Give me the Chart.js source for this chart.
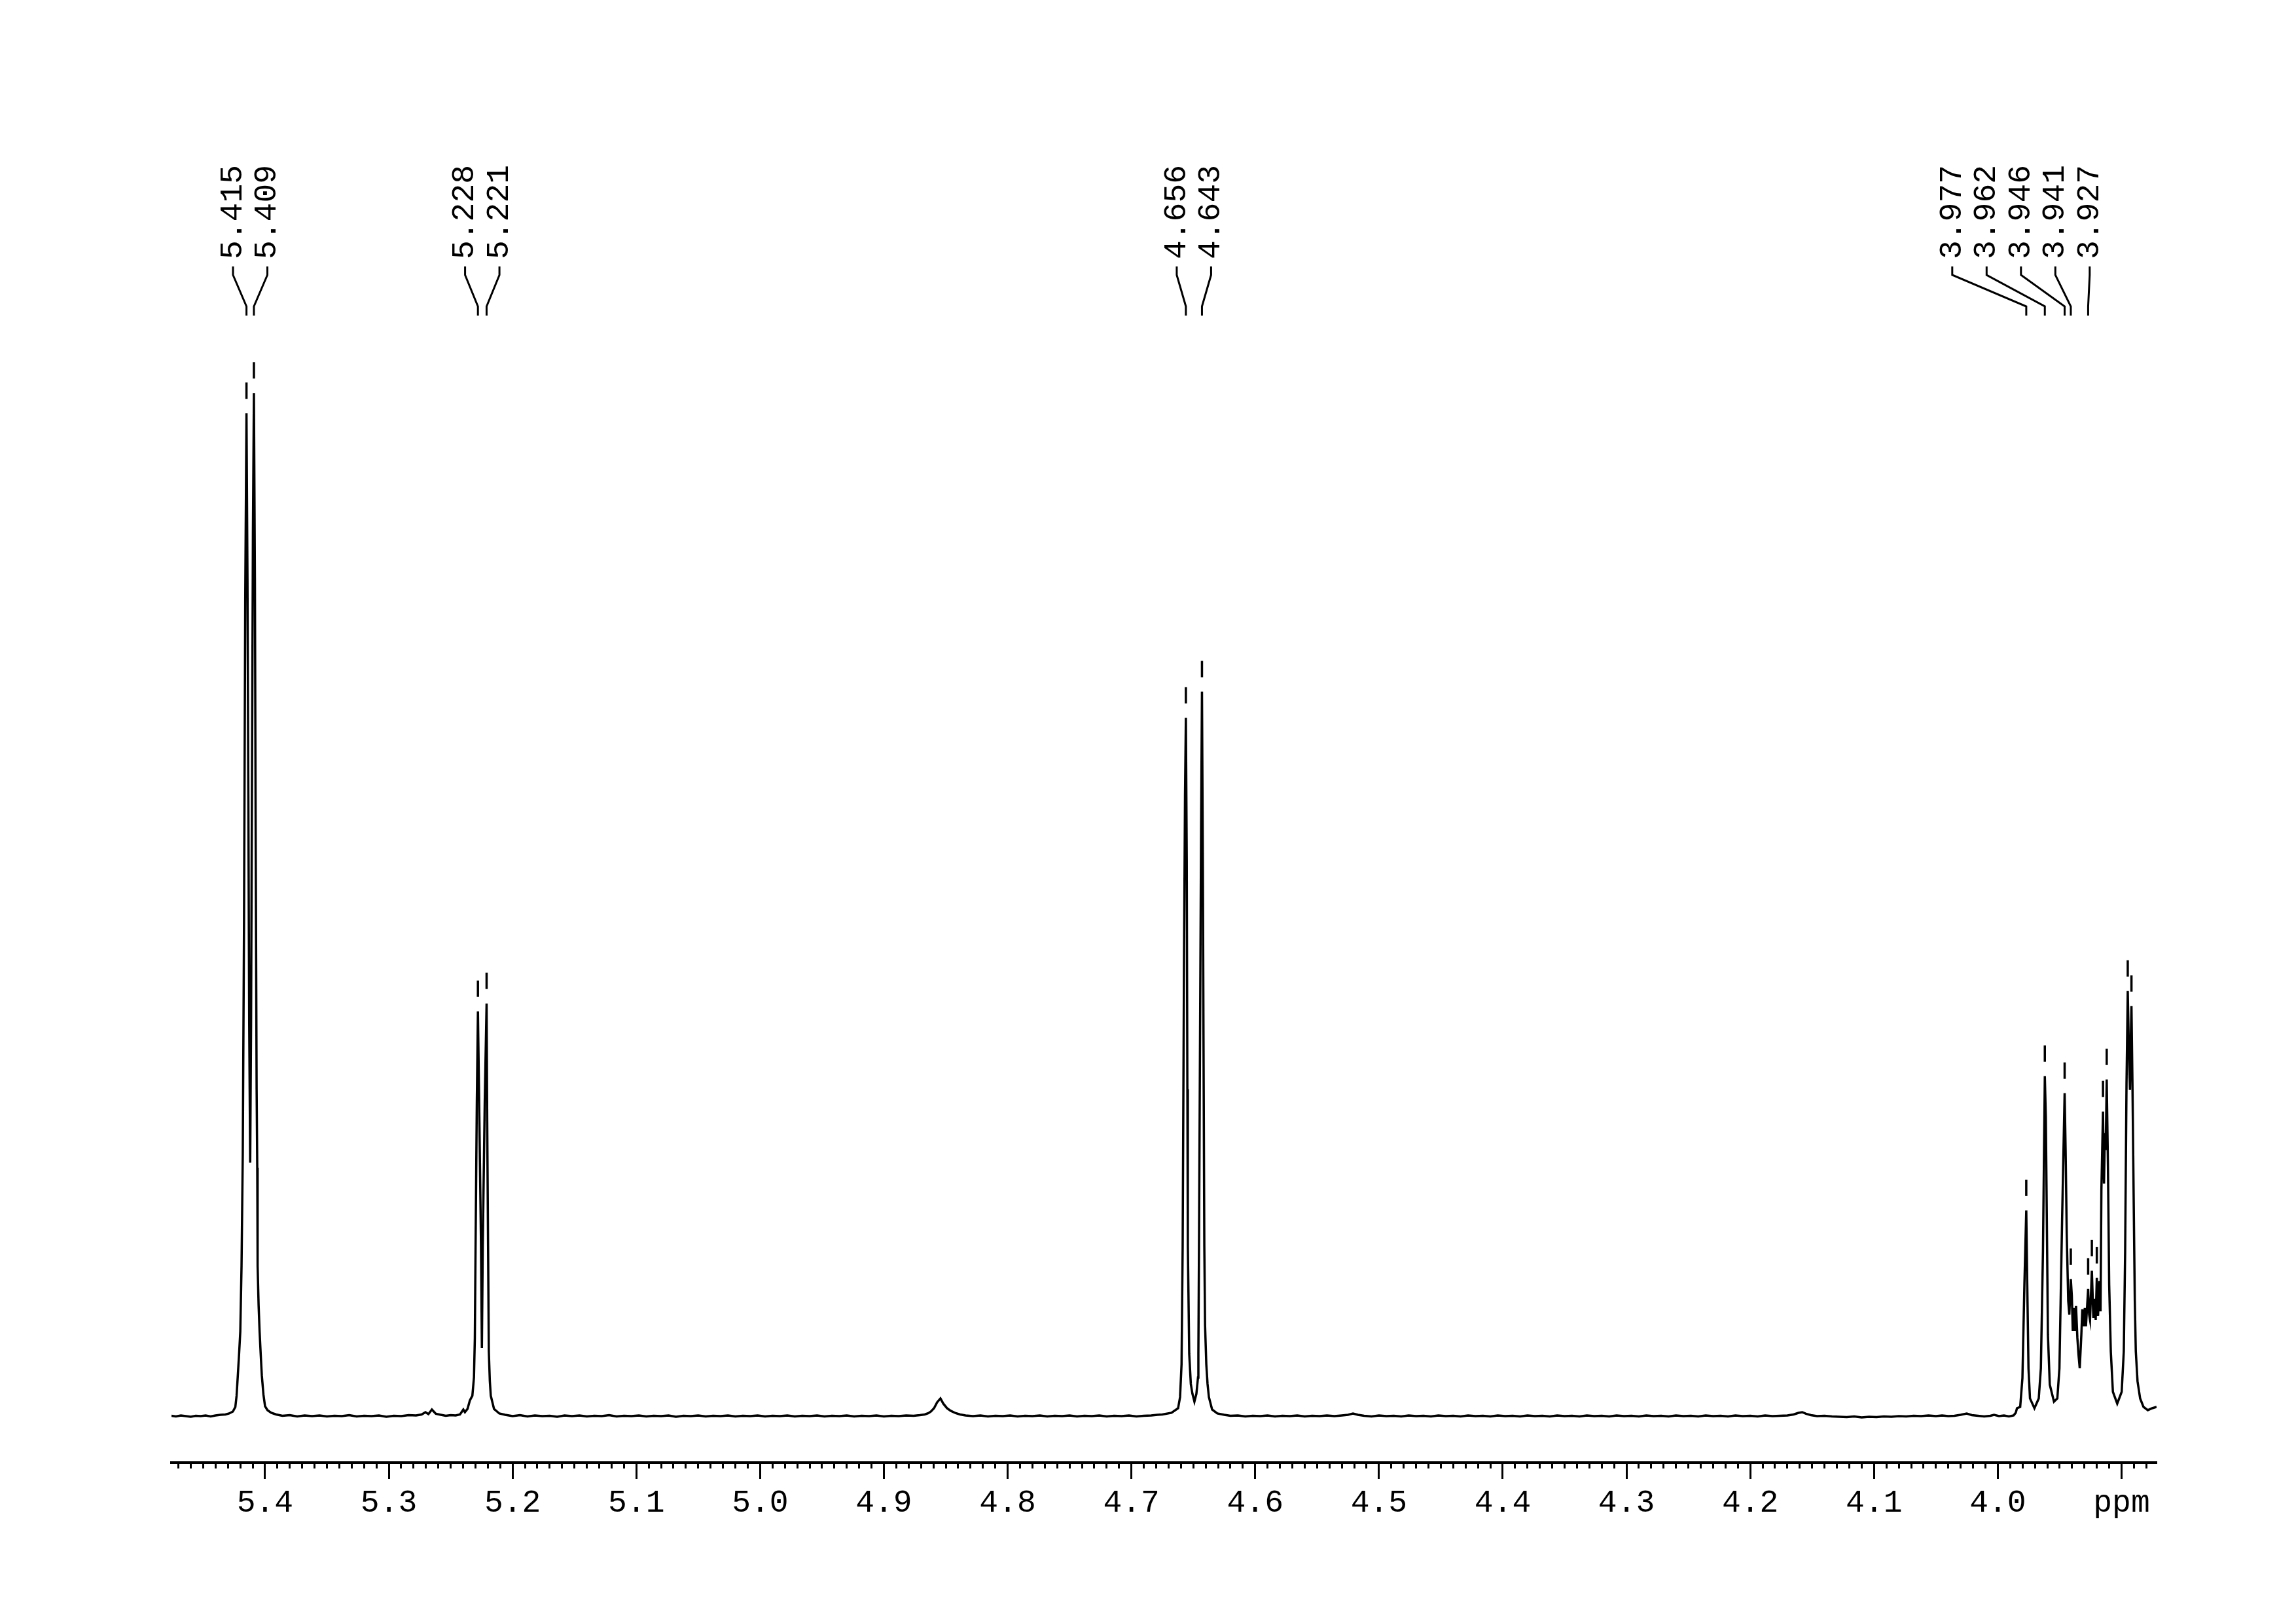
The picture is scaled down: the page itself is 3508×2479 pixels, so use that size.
<!DOCTYPE html>
<html lang="en">
<head>
    <meta charset="UTF-8">
    <title>1H NMR 3.87 - 5.48 ppm</title>
    <script src="https://cdn.jsdelivr.net/npm/chart.js"></script>
    <style>
        body { margin: 0; background: #fff; }
        #wrap { width: 3508px; height: 2479px; }
    </style>
</head>
<body>
<div id="wrap"><canvas id="spectrum"></canvas></div>
<script>
    // Trace: chemical shift (ppm) and intensity (arbitrary units, baseline = 0)
    const shiftPpm = [
        5.4756, 5.472, 5.468, 5.464, 5.46, 5.456, 5.452, 5.448, 5.444, 5.44, 5.436, 5.432, 5.429, 5.426, 5.424,
        5.423, 5.422, 5.421, 5.42, 5.419, 5.418, 5.417, 5.416, 5.415, 5.4142, 5.4135, 5.4128, 5.412, 5.4113,
        5.4105, 5.4098, 5.409, 5.4082, 5.4075, 5.4068, 5.4063, 5.406, 5.4052, 5.4044, 5.4035, 5.4026, 5.4013,
        5.4, 5.398, 5.395, 5.391, 5.386, 5.38, 5.374, 5.368, 5.362, 5.356, 5.35, 5.344, 5.338, 5.332, 5.326,
        5.32, 5.314, 5.308, 5.302, 5.296, 5.29, 5.284, 5.278, 5.2735, 5.2704, 5.268, 5.2652, 5.262, 5.258,
        5.254, 5.25, 5.246, 5.2425, 5.2398, 5.2385, 5.2364, 5.2345, 5.2325, 5.2312, 5.2305, 5.2299, 5.2289,
        5.228, 5.2268, 5.2255, 5.2248, 5.2241, 5.2225, 5.221, 5.2205, 5.2198, 5.2192, 5.2184, 5.2176, 5.215,
        5.2107, 5.206, 5.2, 5.194, 5.188, 5.182, 5.176, 5.17, 5.164, 5.158, 5.152, 5.146, 5.14, 5.134, 5.128,
        5.122, 5.116, 5.11, 5.104, 5.098, 5.092, 5.086, 5.08, 5.074, 5.068, 5.062, 5.056, 5.05, 5.044, 5.038,
        5.032, 5.026, 5.02, 5.014, 5.008, 5.002, 4.996, 4.99, 4.984, 4.978, 4.972, 4.966, 4.96, 4.954, 4.948,
        4.942, 4.936, 4.93, 4.924, 4.918, 4.912, 4.906, 4.9, 4.894, 4.888, 4.882, 4.876, 4.871, 4.867, 4.864,
        4.862, 4.8595, 4.857, 4.8543, 4.852, 4.849, 4.846, 4.842, 4.8384, 4.834, 4.828, 4.822, 4.816, 4.81,
        4.804, 4.798, 4.792, 4.786, 4.78, 4.774, 4.768, 4.762, 4.756, 4.75, 4.744, 4.738, 4.732, 4.726, 4.72,
        4.714, 4.708, 4.702, 4.696, 4.69, 4.684, 4.679, 4.675, 4.6676, 4.6623, 4.6607, 4.6595, 4.6586, 4.6575,
        4.6567, 4.656, 4.6553, 4.6548, 4.6544, 4.6533, 4.652, 4.6507, 4.6491, 4.6475, 4.6462, 4.6459, 4.6454,
        4.6445, 4.6437, 4.643, 4.6423, 4.6416, 4.6411, 4.6405, 4.6395, 4.6385, 4.6374, 4.6348, 4.6306, 4.625,
        4.62, 4.614, 4.608, 4.602, 4.596, 4.59, 4.584, 4.578, 4.572, 4.566, 4.56, 4.554, 4.548, 4.542, 4.536,
        4.53, 4.525, 4.521, 4.517, 4.512, 4.506, 4.5, 4.494, 4.488, 4.482, 4.476, 4.47, 4.464, 4.458, 4.452,
        4.446, 4.44, 4.434, 4.428, 4.422, 4.416, 4.41, 4.404, 4.398, 4.392, 4.386, 4.38, 4.374, 4.368, 4.362,
        4.356, 4.35, 4.344, 4.338, 4.332, 4.326, 4.32, 4.314, 4.308, 4.302, 4.296, 4.29, 4.284, 4.278, 4.272,
        4.266, 4.26, 4.254, 4.248, 4.242, 4.236, 4.23, 4.224, 4.218, 4.212, 4.206, 4.2, 4.194, 4.188, 4.182,
        4.176, 4.17, 4.165, 4.161, 4.158, 4.155, 4.151, 4.146, 4.14, 4.134, 4.128, 4.122, 4.116, 4.11, 4.104,
        4.098, 4.092, 4.086, 4.08, 4.074, 4.068, 4.062, 4.056, 4.05, 4.045, 4.04, 4.035, 4.03, 4.0251, 4.021,
        4.016, 4.011, 4.006, 4.003, 3.999, 3.995, 3.991, 3.9872, 3.9855, 3.9845, 3.9819, 3.9801, 3.9785, 3.977,
        3.9762, 3.9752, 3.974, 3.9704, 3.9669, 3.9652, 3.9635, 3.962, 3.9612, 3.9604, 3.9595, 3.958, 3.9546,
        3.9519, 3.9502, 3.948, 3.946, 3.9452, 3.9443, 3.9431, 3.9422, 3.941, 3.9402, 3.9394, 3.9385, 3.9376,
        3.9368, 3.9357, 3.9348, 3.9338, 3.9325, 3.9317, 3.9306, 3.9297, 3.9288, 3.927, 3.9262, 3.9255, 3.9248,
        3.924, 3.9228, 3.9218, 3.9209, 3.92, 3.919, 3.9179, 3.917, 3.9163, 3.915, 3.9142, 3.9135, 3.9128, 3.912,
        3.911, 3.91, 3.9087, 3.907, 3.9035, 3.8999, 3.8982, 3.8971, 3.896, 3.895, 3.8941, 3.8932, 3.8928, 3.892,
        3.8912, 3.8902, 3.8893, 3.8885, 3.8871, 3.885, 3.8823, 3.8788, 3.8753, 3.8717
    ];
    const intensity = [
        0.15, 0.05, 0.2, 0.1, 0.0, 0.15, 0.1, 0.2, 0.05, 0.2, 0.3, 0.35, 0.5, 0.8, 1.5,
        3.2, 6.3, 9.5, 13, 23, 40, 75, 125, 153.2, 128, 95, 60, 38.8, 60,
        100, 135, 156.3, 128, 85, 50, 38, 23, 17, 13, 9.5, 6.3, 3.4,
        1.6, 1.0, 0.6, 0.35, 0.15, 0.25, 0.05, 0.2, 0.1, 0.2, 0.05, 0.15, 0.1, 0.25, 0.05,
        0.15, 0.1, 0.2, 0.0, 0.15, 0.1, 0.25, 0.2, 0.35, 0.7, 0.4, 1.1, 0.45, 0.3,
        0.15, 0.25, 0.2, 0.35, 1.1, 0.7, 1.2, 2.5, 3.2, 6, 12, 26, 48,
        61.9, 45, 26, 10.5, 26, 48, 63.1, 45, 26, 10, 5.5, 3.2, 1.2,
        0.5, 0.3, 0.1, 0.25, 0.05, 0.2, 0.1, 0.15, 0.0, 0.2, 0.1, 0.2, 0.05, 0.15, 0.1,
        0.25, 0.05, 0.15, 0.1, 0.2, 0.05, 0.15, 0.1, 0.2, 0.0, 0.15, 0.1, 0.2, 0.05, 0.15,
        0.1, 0.2, 0.05, 0.15, 0.1, 0.2, 0.05, 0.15, 0.1, 0.2, 0.05, 0.15, 0.1, 0.2, 0.05,
        0.15, 0.1, 0.2, 0.05, 0.15, 0.1, 0.2, 0.05, 0.15, 0.1, 0.2, 0.15, 0.25, 0.35, 0.55,
        0.8, 1.3, 2.2, 2.8, 2.0, 1.3, 0.9, 0.55, 0.35, 0.2, 0.1, 0.2, 0.05, 0.15,
        0.1, 0.2, 0.05, 0.15, 0.1, 0.2, 0.05, 0.15, 0.1, 0.2, 0.05, 0.15, 0.1, 0.2, 0.05,
        0.15, 0.1, 0.2, 0.05, 0.15, 0.2, 0.3, 0.35, 0.6, 1.3, 3, 8, 26, 70,
        95, 106.7, 85, 50, 26, 9.6, 5, 3.5, 2.3, 3.5, 6, 9.6, 26,
        60, 90, 110.7, 85, 50, 26, 14, 8, 5, 3, 1.1, 0.5, 0.3,
        0.15, 0.2, 0.05, 0.15, 0.1, 0.2, 0.05, 0.15, 0.1, 0.2, 0.05, 0.15, 0.1, 0.2, 0.1,
        0.2, 0.3, 0.5, 0.3, 0.15, 0.05, 0.2, 0.1, 0.15, 0.05, 0.2, 0.1, 0.15, 0.05, 0.2,
        0.1, 0.15, 0.05, 0.2, 0.1, 0.15, 0.05, 0.2, 0.1, 0.15, 0.05, 0.2, 0.1, 0.15, 0.05,
        0.2, 0.1, 0.15, 0.05, 0.2, 0.1, 0.15, 0.05, 0.2, 0.1, 0.15, 0.05, 0.2, 0.1, 0.15,
        0.05, 0.2, 0.1, 0.15, 0.05, 0.2, 0.1, 0.15, 0.05, 0.2, 0.1, 0.15, 0.05, 0.2, 0.1,
        0.15, 0.2, 0.35, 0.6, 0.7, 0.45, 0.25, 0.1, 0.15, 0.05, 0.0, -0.05, 0.05, -0.1, 0.0,
        -0.05, 0.05, 0.0, 0.1, 0.05, 0.15, 0.1, 0.2, 0.1, 0.2, 0.1, 0.15, 0.3, 0.5, 0.25,
        0.15, 0.05, 0.15, 0.3, 0.1, 0.2, 0.05, 0.2, 0.6, 1.3, 1.5, 5.9, 20.2, 31.5,
        20.2, 7.4, 2.8, 1.3, 2.8, 7.4, 25.3, 52.0, 45.8, 30.5, 12.5, 4.9, 2.3,
        2.8, 7.4, 30.5, 49.4, 40.7, 27.9, 17.7, 15.6, 21.0, 18.5, 13.1, 16.6, 13.1,
        16.9, 12.0, 9.5, 7.4, 12.5, 16.4, 13.8, 16.6, 13.8, 19.5, 15.6, 14.8, 18.2,
        22.3, 15.1, 18.0, 14.8, 21.2, 15.4, 20.7, 16.1, 34.6, 46.6, 35.6, 43.3, 40.7, 51.5,
        38.1, 20.2, 10.0, 3.8, 2.0, 3.8, 10.0, 25.3, 50.9, 65.0, 56.1, 49.9, 55, 62.7,
        50.9, 33.0, 17.7, 10.0, 5.4, 2.8, 1.5, 1.0, 1.3, 1.5
    ];

    // Peaks marked with a dash, and the ones that carry a shift label
    const pickedPeaks = [5.415, 5.409, 5.228, 5.221, 4.656, 4.643, 3.977, 3.962, 3.946, 3.941,
                         3.927, 3.924, 3.920, 3.915, 3.912, 3.895, 3.892];
    const labelledPeaks = [5.415, 5.409, 5.228, 5.221, 4.656, 4.643, 3.977, 3.962, 3.946, 3.941, 3.927];

    // x axis
    const majorTicks = [5.4, 5.3, 5.2, 5.1, 5.0, 4.9, 4.8, 4.7, 4.6, 4.5, 4.4, 4.3, 4.2, 4.1, 4.0, 3.9];
    const majorLabels = ['5.4', '5.3', '5.2', '5.1', '5.0', '4.9', '4.8', '4.7', '4.6', '4.5',
                         '4.4', '4.3', '4.2', '4.1', '4.0', 'ppm'];

    const monoFont = '"Liberation Mono", "Courier New", monospace';

    const majorIndex = v => majorTicks.findIndex(t => Math.abs(t - v) < 1e-6);

    // intensity at a picked peak = nearest point of the trace
    function heightAt(p) {
        let best = 0;
        shiftPpm.forEach((s, i) => {
            if (Math.abs(s - p) < Math.abs(shiftPpm[best] - p)) best = i;
        });
        return intensity[best];
    }

    // peak dashes, rotated shift labels and their leader lines
    const peakLabels = {
        id: 'peakLabels',
        afterDatasetsDraw(chart, args, opts) {
            const {ctx, chartArea, scales: {x, y}} = chart;
            const top = chartArea.top;
            ctx.save();
            ctx.strokeStyle = '#000';
            ctx.fillStyle = '#000';
            ctx.lineWidth = 3.5;

            pickedPeaks.forEach(p => {
                const px = x.getPixelForValue(p);
                const py = y.getPixelForValue(heightAt(p));
                ctx.beginPath();
                ctx.moveTo(px, py - 22);
                ctx.lineTo(px, py - 47);
                ctx.stroke();
            });

            // group labels that would collide, then spread each group evenly
            const xs = labelledPeaks.map(p => x.getPixelForValue(p));
            const groups = [];
            xs.forEach((px, i) => {
                const g = groups[groups.length - 1];
                if (g && px - xs[g[g.length - 1]] < opts.spacing) g.push(i);
                else groups.push([i]);
            });

            ctx.lineWidth = 3;
            ctx.font = '48px ' + monoFont;
            ctx.textAlign = 'left';
            ctx.textBaseline = 'middle';
            groups.forEach((g, gi) => {
                const centre = g.reduce((s, i) => s + xs[i], 0) / g.length + (opts.shift[gi] || 0);
                g.forEach((i, k) => {
                    const lx = centre + (k - (g.length - 1) / 2) * opts.spacing;
                    const px = xs[i];
                    ctx.beginPath();
                    ctx.moveTo(lx, top + 307);
                    ctx.lineTo(lx, top + 320);
                    ctx.lineTo(px, top + 368);
                    ctx.lineTo(px, top + 382);
                    ctx.stroke();

                    ctx.save();
                    ctx.translate(lx, top + 296);
                    ctx.rotate(-Math.PI / 2);
                    ctx.fillText(labelledPeaks[i].toFixed(3), 0, 0);
                    ctx.restore();
                });
            });
            ctx.restore();
        }
    };

    const ctx = document.getElementById('spectrum').getContext('2d');
    const chart = new Chart(ctx, {
        type: 'line',
        data: {
            datasets: [{
                data: shiftPpm.map((s, i) => ({x: s, y: intensity[i]})),
                borderColor: '#000',
                borderWidth: 3.5,
                pointRadius: 0,
                tension: 0,
                fill: false
            }]
        },
        options: {
            responsive: true,
            maintainAspectRatio: false,
            animation: false,
            devicePixelRatio: 1,
            layout: { padding: { left: 262, right: 213, top: 100, bottom: 125 } },
            plugins: {
                legend: { display: false },
                tooltip: { enabled: false },
                peakLabels: { spacing: 52.5, shift: [0, 0, 0, -58] }
            },
            scales: {
                x: {
                    type: 'linear',
                    reverse: true,
                    min: 3.8717,
                    max: 5.4756,
                    border: { display: true, color: '#000', width: 4 },
                    grid: {
                        drawOnChartArea: false,
                        drawTicks: true,
                        tickLength: 25,
                        tickWidth: 3,
                        tickColor: '#000',
                        // minor ticks: only the first few pixels of the tick are drawn
                        tickBorderDash: c => (c.tick && majorIndex(c.tick.value) >= 0) ? [] : [7, 60]
                    },
                    ticks: {
                        stepSize: 0.01,
                        includeBounds: false,
                        autoSkip: false,
                        maxRotation: 0,
                        minRotation: 0,
                        padding: 8,
                        color: '#000',
                        font: { family: monoFont, size: 48 },
                        callback: v => {
                            const i = majorIndex(v);
                            return i >= 0 ? majorLabels[i] : '';
                        }
                    },
                    afterFit: s => { s.height = 120; }
                },
                y: {
                    display: false,
                    min: -7,
                    max: 206.3
                }
            }
        },
        plugins: [peakLabels]
    });
</script>
</body>
</html>
